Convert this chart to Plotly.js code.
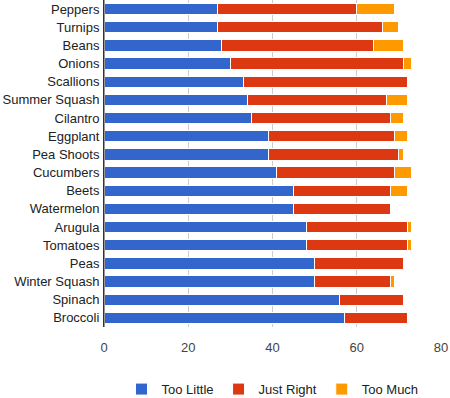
<!DOCTYPE html>
<html><head><meta charset="utf-8">
<script src="https://cdn.plot.ly/plotly-3.0.1.min.js"></script>
<style>html,body{margin:0;padding:0;background:#fff}#c{width:450px;height:398px}</style>
</head><body><div id="c"></div>
<script>
const categories = ["Peppers","Turnips","Beans","Onions","Scallions","Summer Squash","Cilantro","Eggplant","Pea Shoots","Cucumbers","Beets","Watermelon","Arugula","Tomatoes","Peas","Winter Squash","Spinach","Broccoli"];
const tooLittle = [27,27,28,30,33,34,35,39,39,41,45,45,48,48,50,50,56,57];
const justRight = [33,39,36,41,39,33,33,30,31,28,23,23,24,24,21,18,15,15];
const tooMuch   = [9,4,7,2,0,5,3,3,1,4,4,0,1,1,0,1,0,0];
const seriesNames = ["Too Little","Just Right","Too Much"];
const colors = ["#3366CC","#DC3912","#FF9900"];
const xTicks = [0,20,40,60,80];

const data = [tooLittle, justRight, tooMuch].map((vals,i)=>({
  type:'bar', orientation:'h', name:seriesNames[i],
  y:categories, x:vals,
  marker:{color:colors[i], line:{color:'#fff', width:1}},
  hoverinfo:'x+name'
}));

const layout = {
  width:450, height:398,
  margin:{l:104, r:9, t:0, b:71, autoexpand:false},
  barmode:'stack', bargap:0.38,
  paper_bgcolor:'#fff', plot_bgcolor:'#fff',
  font:{family:'"Liberation Sans", Arial, sans-serif', size:13, color:'#222'},
  xaxis:{range:[0,80], tickvals:xTicks, ticktext:xTicks.map(String), showgrid:true, gridcolor:'#cccccc', gridwidth:1,
         zeroline:false, showline:false, ticks:'outside', ticklen:8, tickcolor:'rgba(0,0,0,0)', tickfont:{size:13, color:'#444'}, fixedrange:true},
  yaxis:{type:'category', autorange:'reversed', showline:true, linecolor:'#333', linewidth:1, ticks:'',
         ticklabelstandoff:1, tickfont:{size:13, color:'#222'}, showgrid:false, fixedrange:true},
  showlegend:true,
  legend:{orientation:'h', x:0.5, xanchor:'center', y:-0.19, yanchor:'middle', font:{size:13, color:'#222'},
          traceorder:'normal', itemwidth:30},
  shapes:[{type:'line', xref:'paper', yref:'paper', x0:0, x1:0, y0:0, y1:1, line:{color:'#333', width:1}}]
};
Plotly.newPlot('c', data, layout, {displayModeBar:false, staticPlot:true});
</script></body></html>
